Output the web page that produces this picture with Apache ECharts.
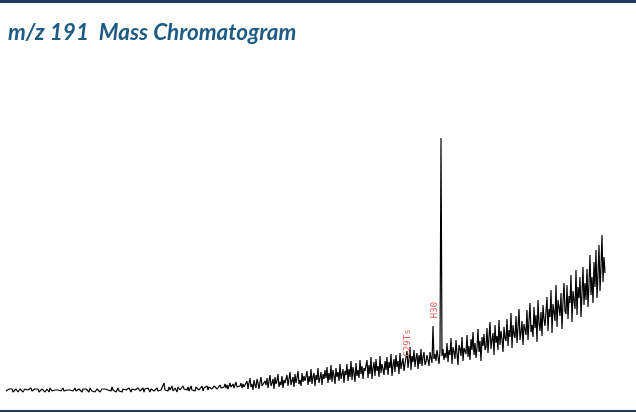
<!DOCTYPE html>
<html><head><meta charset="utf-8">
<script src="https://cdn.jsdelivr.net/npm/echarts@6/dist/echarts.min.js"></script>
<style>html,body{margin:0;padding:0;background:#fff}#c{width:636px;height:413px}</style>
</head><body><div id="c"></div>
<script>
// m/z 191 ion intensity (arbitrary units), one value per scan
const intensity = [
  4,5,3,6,4,5,6,3,5,4,6,5,3,4,6,5,4,3,5,6,
  4,6,5,3,5,7,4,5,3,6,5,4,6,3,5,4,6,5,4,3,
  5,6,4,3,7,5,4,6,3,5,4,6,5,3,6,4,5,7,4,5,
  3,5,6,4,5,3,6,4,5,7,4,3,5,6,4,5,3,6,5,4,
  6,4,5,3,7,5,4,6,5,3,5,6,4,7,3,5,6,4,5,6,
  4,7,5,3,6,4,8,5,4,6,3,5,7,4,6,5,3,6,5,4,
  5,6,4,7,5,3,6,8,4,5,6,3,7,5,4,6,5,7,3,6,
  6,4,7,5,3,6,5,8,4,6,5,7,4,3,6,5,7,4,12,5,
  6,7,4,8,5,6,9,4,6,7,5,3,8,6,5,7,4,9,6,5,
  7,5,8,4,6,9,5,7,6,4,8,6,10,5,7,6,9,4,7,8,
  6,9,5,8,7,10,6,5,9,7,11,6,8,5,10,7,6,9,8,11,
  7,10,6,9,12,8,6,11,7,9,13,8,10,6,9,12,7,11,8,10,
  9,14,6,12,17,8,11,5,15,10,7,16,12,6,13,18,9,11,7,14,
  10,17,7,14,20,9,12,16,6,18,11,14,21,8,13,10,19,7,15,12,
  13,20,9,16,23,10,14,18,8,21,12,17,24,11,15,9,22,13,19,14,
  15,24,10,19,13,26,11,18,22,9,20,15,27,12,17,23,10,21,16,25,
  17,28,12,22,15,30,13,25,19,11,27,18,23,14,31,16,21,26,12,24,
  20,31,14,26,18,34,15,28,22,13,32,19,25,17,35,21,29,16,27,24,
  23,35,17,30,21,38,16,27,33,19,36,24,29,18,39,22,31,26,20,34,
  25,38,20,33,27,41,19,30,36,23,40,28,34,21,42,26,32,37,24,31,
  32,44,27,36,48,25,39,33,45,28,37,42,26,40,31,46,29,38,43,30,
  33,40,35,29,43,37,32,69,36,41,34,45,38,31,44,257,39,46,35,42,
  37,52,33,45,40,57,31,48,43,36,55,41,30,50,46,39,58,34,47,44,
  41,60,38,49,35,56,45,63,40,52,37,47,66,43,54,34,58,49,61,45,
  48,67,42,58,73,46,55,62,40,70,52,59,45,75,50,64,56,43,68,57,
  54,76,49,65,58,82,47,70,61,57,79,52,68,86,55,63,74,50,71,66,
  60,85,55,74,92,63,70,58,88,67,80,53,95,72,64,83,59,90,76,69,
  70,98,64,86,78,105,62,91,83,74,110,68,95,88,79,102,66,93,112,84,
  81,110,76,99,92,120,73,104,95,86,125,80,108,97,118,78,101,128,90,112,
  95,126,88,112,140,100,118,92,133,108,145,97,121,150,104,128,160,113,138,122
];
// labelled peaks: scan index and compound name
const peakScans = [404, 427];
const peakNames = ['C29Ts', 'H30'];
const titleText = 'm/z 191  Mass Chromatogram';

const chart = echarts.init(document.getElementById('c'), null, {renderer: 'canvas'});
const markData = peakScans.map((s, i) => ({
  coord: [s, intensity[s]],
  label: {
    show: true, formatter: peakNames[i], rotate: 90,
    position: 'inside',
    offset: i === 0 ? [4, -2] : [16, 2],
    color: '#e8605c', fontSize: 9, fontFamily: 'DejaVu Sans Mono'
  }
}));
chart.setOption({
  animation: false,
  backgroundColor: '#fff',
  title: {
    text: titleText, left: 3, top: 16,
    textStyle: {color: '#1d5b84', fontSize: 22.5, fontStyle: 'italic', fontWeight: 'bold', fontFamily: 'Lato'}
  },
  graphic: [
    {type: 'rect', shape: {x: 0, y: 0, width: 636, height: 3}, style: {fill: '#1f3a5f'}},
    {type: 'rect', shape: {x: 0, y: 410, width: 636, height: 2}, style: {fill: '#1f3a5f'}}
  ],
  grid: {left: 6, right: 31, top: 135, bottom: 18},
  xAxis: {type: 'category', boundaryGap: false, show: false},
  yAxis: {type: 'value', min: 0, max: 260, show: false},
  series: [{
    type: 'line', data: intensity, showSymbol: false, symbol: 'none',
    lineStyle: {color: '#000', width: 1.2},
    markPoint: {symbol: 'circle', symbolSize: 0, data: markData}
  }]
});
</script></body></html>
